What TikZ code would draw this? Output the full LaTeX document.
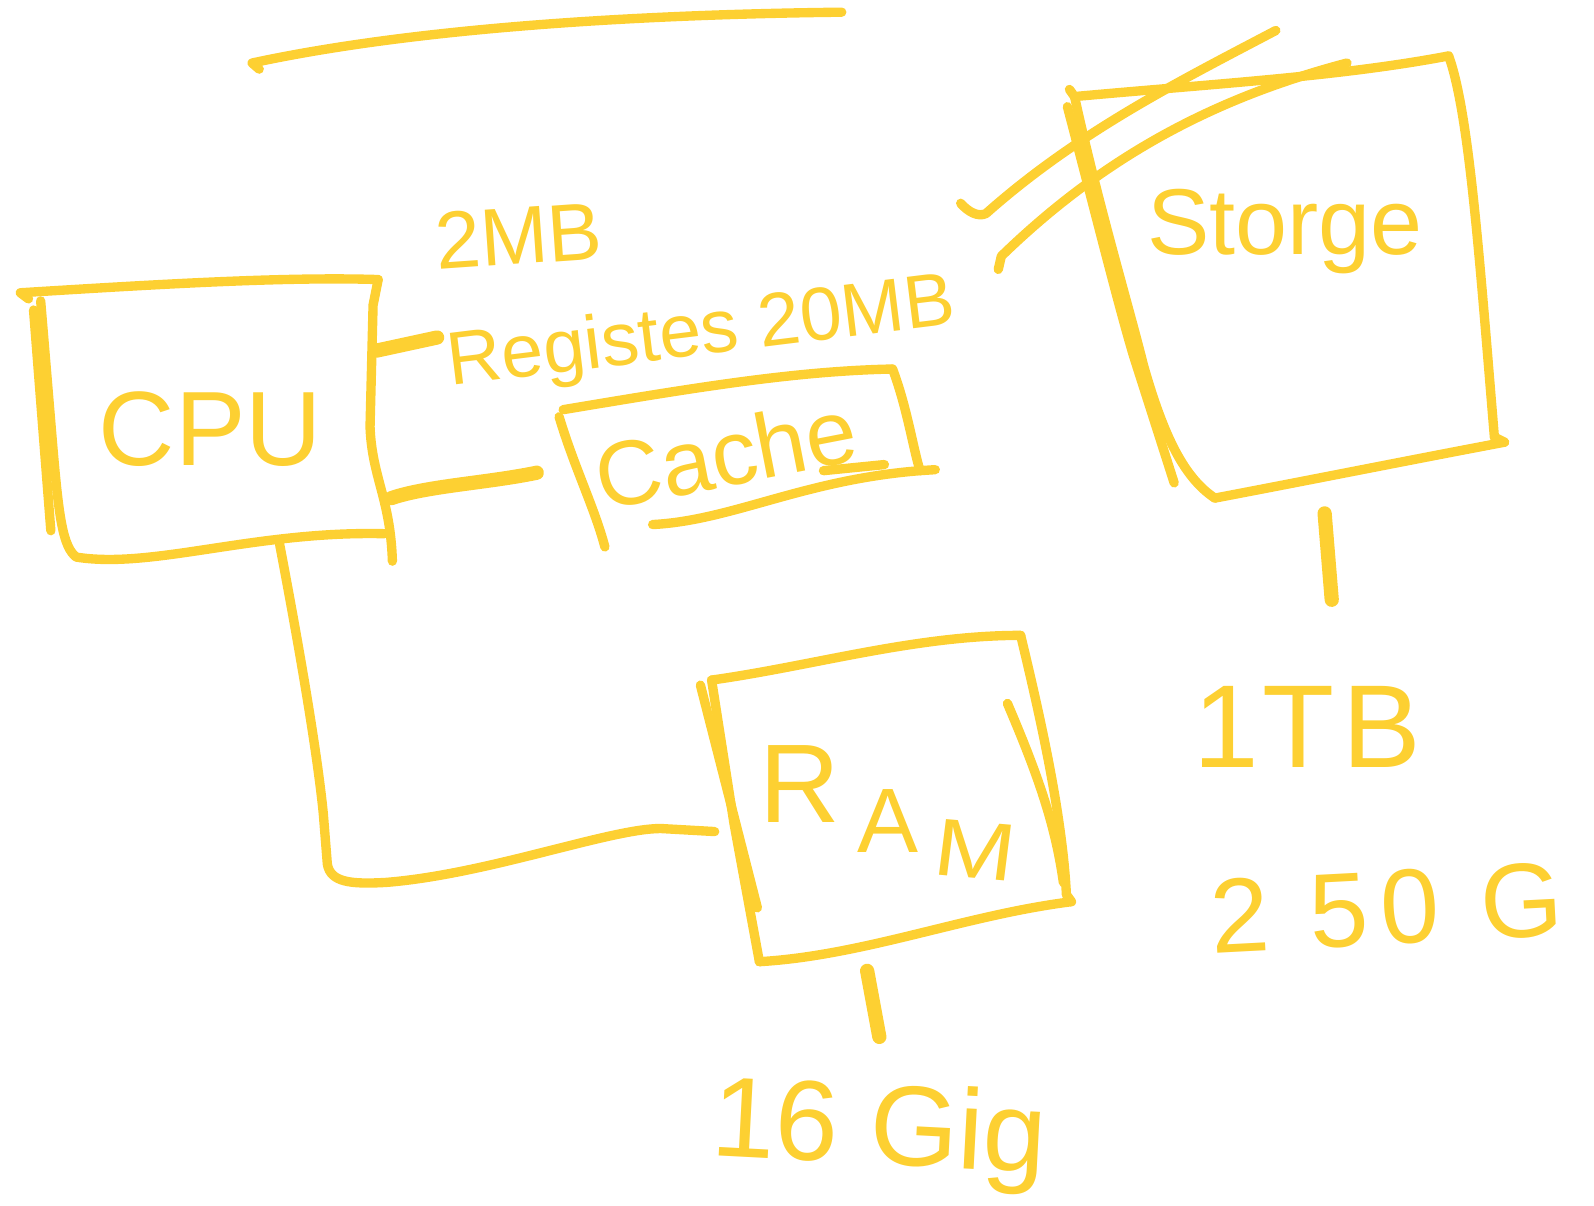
\documentclass[tikz,border=0pt]{standalone}
\usepackage{fontspec}
\setmainfont{Liberation Sans}
\definecolor{hy}{RGB}{253,208,50}
\tikzset{
  hand/.style={draw=hy, line width=4.6pt, line cap=round, line join=round},
  thick hand/.style={hand, line width=7pt},
  lbl/.style={text=hy, inner sep=0pt},
}
\begin{document}
\begin{tikzpicture}[x=0.5pt,y=-0.5pt]
\useasboundingbox (0,0) rectangle (1568,1186);

% ---------- top stray stroke ----------
\coordinate (t0) at (255,68);
\coordinate (t1) at (248,62);
\coordinate (t2) at (828,12);
\draw[hand] (t0) -- (t1) .. controls (420,25) and (650,14) .. (t2);

% ---------- CPU box ----------
\coordinate (cpuTL) at (20,288);
\coordinate (cpuTR) at (372,275);
\coordinate (cpuBL) at (75,548);
\coordinate (cpuBR) at (386,552);
\draw[hand] (28,294) -- (cpuTL) .. controls (150,280) and (280,272) .. (cpuTR);
\draw[hand] (cpuTR) -- (367,300) -- (364,420) .. controls (366,470) and (384,490) .. (cpuBR);
\draw[hand] (40,296) -- (52,440) .. controls (58,510) and (62,538) .. (cpuBL)
  .. controls (150,560) and (250,522) .. (378,525);
\draw[hand] (33,305) -- (50,522);
\node[lbl, font=\fontsize{52}{56}\selectfont] (cpu) at (207,422) {CPU};

% ---------- labels near CPU ----------
\node[lbl, font=\fontsize{40}{44}\selectfont, rotate=4] (mb2) at (510,232) {2MB};
\node[lbl, font=\fontsize{37}{40}\selectfont, rotate=7] (reg) at (690,330) {Registes 20MB};
\coordinate (cpuR1) at (370,345);
\coordinate (regL) at (430,332);
\draw[thick hand] (cpuR1) -- (regL);

% ---------- Cache box ----------
\coordinate (caTL) at (554,403);
\coordinate (caTR) at (878,363);
\coordinate (caBL) at (595,538);
\coordinate (caBR) at (905,463);
\draw[hand] (caTL) .. controls (680,382) and (780,365) .. (caTR);
\draw[hand] (caTR) .. controls (892,400) and (898,440) .. (caBR) -- (920,462);
\draw[hand] (550,410) .. controls (565,460) and (585,500) .. (caBL);
\draw[hand] (642,516) .. controls (720,512) and (790,472) .. (caBR);
\draw[hand] (810,463) -- (870,457);
\node[lbl, font=\fontsize{45}{50}\selectfont, rotate=11] (cache) at (714,446) {Cache};
\coordinate (cpuR2) at (385,490);
\coordinate (caL) at (528,465);
\draw[thick hand] (cpuR2) .. controls (420,478) and (480,475) .. (caL);

% ---------- RAM box ----------
\coordinate (raTL) at (700,669);
\coordinate (raTR) at (1004,625);
\coordinate (raBL) at (747,946);
\coordinate (raBR) at (1054,887);
\draw[hand] (raTL) .. controls (800,655) and (900,625) .. (raTR);
\draw[hand] (raTR) .. controls (1022,700) and (1045,800) .. (1049,880) -- (raBR);
\draw[hand] (raBL) .. controls (850,940) and (950,900) .. (raBR);
\draw[hand] (raTL) -- (722,810) -- (raBL);
\draw[hand] (689,674) -- (745,893);
\draw[hand] (991,692) .. controls (1020,760) and (1038,810) .. (1046,868);
\node[lbl, font=\fontsize{55}{60}\selectfont] (rR) at (787,771) {R};
\node[lbl, font=\fontsize{45}{48}\selectfont] (rA) at (874,808) {A};
\node[lbl, font=\fontsize{40}{44}\selectfont, xscale=1.2, rotate=-6] (rM) at (960,836) {M};

% CPU -> RAM connector
\coordinate (cpuB) at (275,535);
\coordinate (raL) at (703,818);
\draw[hand] (cpuB) .. controls (295,640) and (312,740) .. (318,800) -- (322,850)
  .. controls (325,868) and (345,870) .. (380,868)
  .. controls (480,860) and (600,815) .. (650,815) -- (raL);

% RAM capacity
\coordinate (raT1) at (853,955);
\coordinate (raT2) at (865,1020);
\draw[thick hand] (raT1) -- (raT2);
\node[lbl, font=\fontsize{56}{60}\selectfont, rotate=-3] (gig) at (865,1116) {16 Gig};

% ---------- Storage box ----------
\coordinate (stTL) at (1057,95);
\coordinate (stTR) at (1425,55);
\coordinate (stBL) at (1195,490);
\coordinate (stBR) at (1480,435);
\draw[hand] (1052,88) -- (stTL) .. controls (1200,82) and (1320,75) .. (stTR);
\draw[hand] (stTR) .. controls (1445,110) and (1455,250) .. (1470,430) -- (stBR);
\draw[hand] (stBL) .. controls (1300,470) and (1400,450) .. (stBR);
\draw[hand] (stTL) .. controls (1080,200) and (1110,300) .. (1125,360)
  .. controls (1145,430) and (1165,470) .. (stBL);
\draw[hand] (1050,105) .. controls (1075,200) and (1100,300) .. (1115,350) -- (1155,475);
% crossing strokes
\coordinate (x1a) at (945,200);
\coordinate (x1b) at (1255,30);
\coordinate (x2a) at (982,265);
\coordinate (x2b) at (1325,62);
\draw[hand] (x1a) .. controls (952,208) and (962,214) .. (970,210)
  .. controls (1060,130) and (1160,80) .. (x1b);
\draw[hand] (x2a) -- (985,252) .. controls (1090,150) and (1200,95) .. (x2b);
\node[lbl, font=\fontsize{46}{50}\selectfont] (storge) at (1264,228) {Storge};

% Storage capacity
\coordinate (stT1) at (1303,505);
\coordinate (stT2) at (1310,590);
\draw[thick hand] (stT1) -- (stT2);
\node[lbl, font=\fontsize{58}{62}\selectfont] (tb) at (1286,715) {1\hskip 2pt T\hskip 4pt B};
\node[lbl, font=\fontsize{52}{56}\selectfont, rotate=3] (g250) at (1364,893) {2\hskip 20pt 5\hskip 6pt 0\hskip 20pt G};

\end{tikzpicture}
\end{document}
